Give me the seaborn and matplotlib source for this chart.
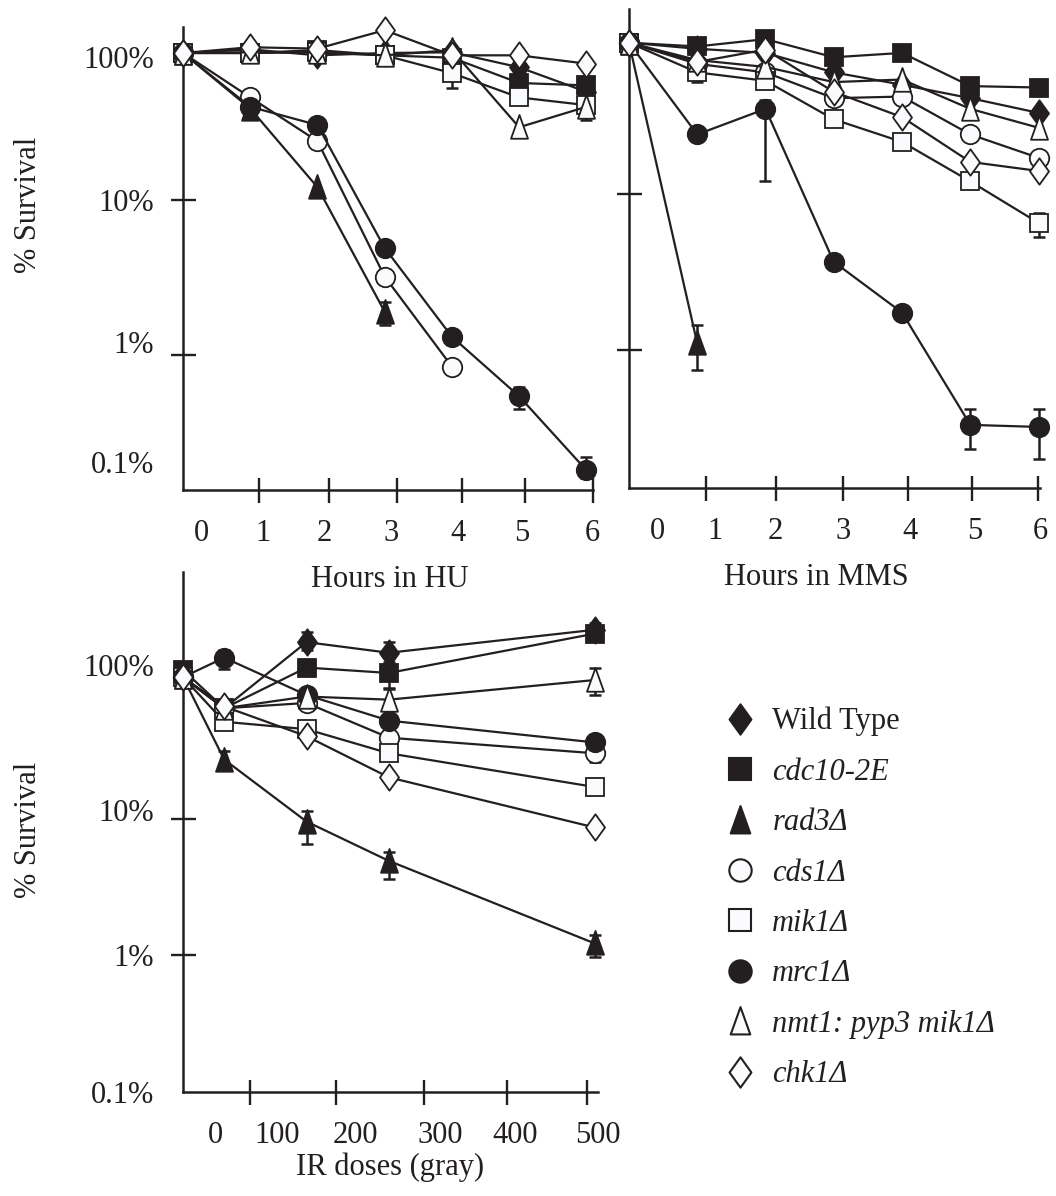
import numpy as np
import pandas as pd
import matplotlib
matplotlib.use("Agg")
import matplotlib.pyplot as plt
from matplotlib.lines import Line2D
from matplotlib.path import Path
from matplotlib.ticker import NullFormatter
import seaborn as sns

# strains in legend order
strains = ["Wild Type", "cdc10-2E", "rad3Δ", "cds1Δ", "mik1Δ",
           "mrc1Δ", "nmt1: pyp3 mik1Δ", "chk1Δ"]

# --- HU (hours), % survival
hu_hours = [0, 1, 2, 3, 4, 5, 6]
hu_wt = [89, 94, 86, 89, 90, 72, 50]
hu_cdc10 = [89, 89, 93, 86, 83, 57, 55]
hu_rad3 = [89, 39, 12.1, 1.9, None, None, None]
hu_cds1 = [89, 46, 24, 3.2, 0.84, None, None]
hu_mik1 = [89, 89, 90, 86, 66, 46, 41]
hu_mrc1 = [89, 40, 30.5, 4.9, 1.31, 0.54, 0.18]
hu_nmt1 = [89, 90, 90, 86, 93, 29.5, 40]
hu_chk1 = [89, 97, 95, 125, 86, 86, 76]
# (strain, x, low, high)
hu_err = [("mik1Δ", 4, 53, 80), ("mik1Δ", 6, 33, 50), ("rad3Δ", 3, 1.56, 2.2),
          ("mrc1Δ", 5, 0.45, 0.62), ("mrc1Δ", 6, 0.16, 0.22)]

# --- MMS (hours)
mms_hours = [0, 1, 2, 3, 4, 5, 6]
mms_wt = [93, 85, 80, 60, 50, 41, 33]
mms_cdc10 = [93, 88, 98, 75, 80, 49, 48]
mms_rad3 = [93, 1.1, None, None, None, None, None]
mms_cds1 = [93, 68, 60, 41, 42, 24, 17]
mms_mik1 = [93, 60, 53, 30, 21.5, 12, 6.5]
mms_mrc1 = [93, 24, 35, 3.66, 1.73, 0.33, 0.32]
mms_nmt1 = [93, 72, 65, 52, 54, 35, 26.5]
mms_chk1 = [93, 70, 84, 45, 31, 16, 14]
mms_err = [("rad3Δ", 1, 0.74, 1.45), ("mik1Δ", 1, 52, 66), ("mrc1Δ", 2, 12, 40),
           ("mik1Δ", 6, 5.3, 7.5), ("mrc1Δ", 5, 0.23, 0.42), ("mrc1Δ", 6, 0.2, 0.42),
           ("mik1Δ", 3, 27, 33), ("mik1Δ", 4, 19.5, 23)]

# --- IR doses (gray)
ir_dose = [0, 50, 150, 250, 500]
ir_wt = [108, 64, 195, 163, 240]
ir_cdc10 = [122, 64, 127, 116, 225]
ir_rad3 = [108, 27, 9.5, 4.9, 1.22]
ir_cds1 = [108, 64, 70, 39, 30]
ir_mik1 = [108, 51, 45, 30, 17]
ir_mrc1 = [108, 150, 80, 52, 36]
ir_nmt1 = [108, 64, 78, 74, 103]
ir_chk1 = [108, 66, 40, 20, 8.6]
ir_err = [("mrc1Δ", 50, 125, 170), ("rad3Δ", 50, 23, 31), ("Wild Type", 150, 170, 232),
          ("rad3Δ", 150, 6.5, 11.4), ("Wild Type", 250, 140, 195), ("cdc10-2E", 250, 90, 135),
          ("nmt1: pyp3 mik1Δ", 250, 62, 88), ("cds1Δ", 250, 33, 45), ("rad3Δ", 250, 3.6, 5.7),
          ("nmt1: pyp3 mik1Δ", 500, 80, 127), ("cds1Δ", 500, 26, 34), ("rad3Δ", 500, 0.97, 1.4),
          ("Wild Type", 500, 225, 270)]

DARK = "#231f20"
OPEN = "#fafbfd"

diamond = Path([(0, 1), (0.72, 0), (0, -1), (-0.72, 0), (0, 1)], closed=True)
triangle = Path([(0, 1), (0.68, -0.9), (-0.68, -0.9), (0, 1)], closed=True)
# marker, face, size
marker_style = {
    "Wild Type": (diamond, DARK, 19),
    "cdc10-2E": ("s", DARK, 13.5),
    "rad3Δ": (triangle, DARK, 18),
    "cds1Δ": ("o", OPEN, 14),
    "mik1Δ": ("s", OPEN, 13.5),
    "mrc1Δ": ("o", DARK, 14),
    "nmt1: pyp3 mik1Δ": (triangle, OPEN, 18),
    "chk1Δ": (diamond, OPEN, 19),
}


def make_frame(x, series):
    rows = []
    for s, vals in zip(strains, series):
        for xi, v in zip(x, vals):
            if v is not None:
                rows.append({"x": xi, "survival": v, "strain": s})
    return pd.DataFrame(rows)


hu_df = make_frame(hu_hours, [hu_wt, hu_cdc10, hu_rad3, hu_cds1, hu_mik1, hu_mrc1, hu_nmt1, hu_chk1])
mms_df = make_frame(mms_hours, [mms_wt, mms_cdc10, mms_rad3, mms_cds1, mms_mik1, mms_mrc1, mms_nmt1, mms_chk1])
ir_df = make_frame(ir_dose, [ir_wt, ir_cdc10, ir_rad3, ir_cds1, ir_mik1, ir_mrc1, ir_nmt1, ir_chk1])

sns.set_style("ticks")
plt.rcParams["font.family"] = ["Liberation Serif", "DejaVu Serif"]
plt.rcParams["font.size"] = 22
plt.rcParams["text.color"] = DARK
plt.rcParams["axes.labelcolor"] = DARK
plt.rcParams["xtick.color"] = DARK
plt.rcParams["ytick.color"] = DARK

fig = plt.figure(figsize=(10.56, 11.96), dpi=100)
ax_hu = fig.add_axes([0.1733, 0.5903, 0.3883, 0.3871])
ax_mms = fig.add_axes([0.5956, 0.5920, 0.3892, 0.4005])
ax_ir = fig.add_axes([0.1733, 0.0870, 0.3930, 0.4348])


def draw_panel(ax, df, errs):
    ax.patch.set_visible(False)
    ax.set_yscale("log")
    for s in strains:
        m, face, ms = marker_style[s]
        sub = df[df["strain"] == s]
        sns.lineplot(data=sub, x="x", y="survival", ax=ax, color=DARK, lw=1.6,
                     marker=m, markersize=ms, markerfacecolor=face,
                     markeredgecolor=DARK, markeredgewidth=1.3,
                     errorbar=None, clip_on=False, zorder=3, legend=False)
    for s, x, lo, hi in errs:
        sub = df[(df["strain"] == s) & (df["x"] == x)]
        mid = sub["survival"].iloc[0]
        ax.errorbar([x], [mid], yerr=[[mid - lo], [hi - mid]], fmt="none",
                    ecolor=DARK, elinewidth=1.8, capsize=4, capthick=1.8,
                    clip_on=False, zorder=2.5)
    sns.despine(ax=ax)
    for sp in ["left", "bottom"]:
        ax.spines[sp].set_linewidth(1.8)
        ax.spines[sp].set_color(DARK)
    ax.set_xlabel("")
    ax.set_ylabel("")
    ax.xaxis.remove_overlapping_locs = False
    ax.yaxis.remove_overlapping_locs = False
    ax.tick_params(which="major", length=0, pad=21, labelsize=22)
    ax.tick_params(which="minor", length=18, width=1.7, direction="inout", color=DARK)
    ax.yaxis.set_minor_formatter(NullFormatter())
    ax.xaxis.set_minor_formatter(NullFormatter())


draw_panel(ax_hu, hu_df, hu_err)
draw_panel(ax_mms, mms_df, mms_err)
draw_panel(ax_ir, ir_df, ir_err)

# HU panel
ax_hu.set_xlim(0, 6.1)
ax_hu.set_ylim(0.134, 131)
ax_hu.set_xticks([0.28, 1.19, 2.1, 3.1, 4.09, 5.04, 6.09], ["0", "1", "2", "3", "4", "5", "6"])
ax_hu.set_xticks([1.13, 2.17, 3.18, 4.15, 5.09, 6.1], minor=True)
ax_hu.set_yticks([0.204, 1.21, 10, 83.7], ["0.1%", "1%", "10%", "100%"])
ax_hu.set_yticks([1, 10], minor=True)
ax_hu.set_xlabel("Hours in HU")
ax_hu.xaxis.set_label_coords(0.505, -0.162)
ax_hu.set_ylabel("% Survival")
ax_hu.yaxis.set_label_coords(-0.341, 0.616)

# MMS panel
ax_mms.set_xlim(0, 6.02)
ax_mms.set_ylim(0.13, 153)
ax_mms.set_xticks([0.41, 1.26, 2.15, 3.13, 4.11, 5.06, 6.02], ["0", "1", "2", "3", "4", "5", "6"])
ax_mms.set_xticks([1.13, 2.15, 3.13, 4.08, 5.02, 5.99], minor=True)
ax_mms.set_yticks([])
ax_mms.set_yticks([1, 10], minor=True)
ax_mms.set_xlabel("Hours in MMS")
ax_mms.xaxis.set_label_coords(0.457, -0.157)

# IR panel
ax_ir.set_xlim(0, 504)
ax_ir.set_ylim(0.1, 636)
ax_ir.set_xticks([39, 114, 209, 312, 403, 504], ["0", "100", "200", "300", "400", "500"])
ax_ir.set_xticks([81, 186, 293, 393, 491], minor=True)
ax_ir.set_yticks([0.1, 1, 11.6, 133], ["0.1%", "1%", "10%", "100%"])
ax_ir.set_yticks([1, 10], minor=True)
ax_ir.set_xlabel("IR doses (gray)")
ax_ir.xaxis.set_label_coords(0.499, -0.117)
ax_ir.set_ylabel("% Survival")
ax_ir.yaxis.set_label_coords(-0.337, 0.504)

# legend
handles = []
for s in strains:
    m, face, ms = marker_style[s]
    handles.append(Line2D([], [], linestyle="none", marker=m, markersize=ms * 1.15,
                          markerfacecolor=face, markeredgecolor=DARK, markeredgewidth=1.5))
leg = fig.legend(handles, strains, loc="upper left", bbox_to_anchor=(725 / 1056, 1 - 707 / 1196),
                 frameon=False, fontsize=22, handlelength=1.0, handletextpad=0.55,
                 labelspacing=0.7, borderpad=0, borderaxespad=0)
for t in leg.get_texts()[1:]:
    t.set_fontstyle("italic")

fig.savefig("out.png", dpi=100)
